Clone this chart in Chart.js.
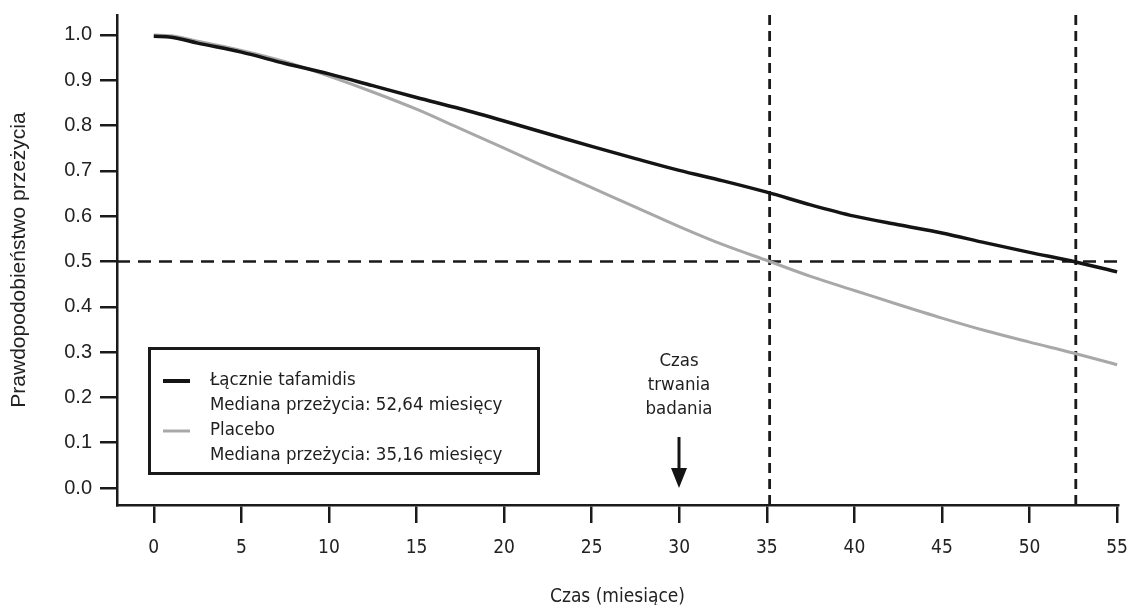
<!DOCTYPE html>
<html lang="pl">
<head>
<meta charset="utf-8">
<title>Krzywe przeżycia – tafamidis vs placebo</title>
<script src="https://cdn.jsdelivr.net/npm/chart.js@4/dist/chart.umd.min.js"></script>
<style>
  html, body { margin: 0; padding: 0; background: #fff; }
  #wrap { width: 1130px; height: 605px; }
</style>
</head>
<body>
<div id="wrap"><canvas id="km" width="1130" height="605"></canvas></div>
<script>
// ---- data ----
const xTicks = [0, 5, 10, 15, 20, 25, 30, 35, 40, 45, 50, 55];
const yTicks = [0, 0.1, 0.2, 0.3, 0.4, 0.5, 0.6, 0.7, 0.8, 0.9, 1.0];

const tafMonths   = [0, 1, 2.5, 5, 7.5, 10, 12.5, 15, 17.5, 20, 22.5, 25, 27.5, 30, 32.5, 35, 37.5, 40, 42.5, 45, 47.5, 50, 52.64, 55];
const tafSurvival = [0.997, 0.995, 0.982, 0.962, 0.937, 0.914, 0.888, 0.862, 0.837, 0.810, 0.782, 0.754, 0.727, 0.701, 0.678, 0.653, 0.625, 0.600, 0.581, 0.563, 0.541, 0.520, 0.499, 0.477];

const plcMonths   = [0, 1, 2.5, 5, 7.5, 10, 12.5, 15, 17.5, 20, 22.5, 25, 27.5, 30, 32.5, 35.16, 37.5, 40, 42.5, 45, 47.5, 50, 52.5, 55];
const plcSurvival = [1.0, 0.998, 0.986, 0.966, 0.941, 0.909, 0.874, 0.836, 0.793, 0.750, 0.706, 0.663, 0.620, 0.577, 0.537, 0.500, 0.467, 0.436, 0.405, 0.375, 0.347, 0.322, 0.298, 0.272];

const tafMedian = 52.64;
const plcMedian = 35.16;
const halfSurvival = 0.5;
const studyEnd = 30;

const seriesNames = ['Łącznie tafamidis', 'Placebo'];
const medianNotes = ['Mediana przeżycia: 52,64 miesięcy', 'Mediana przeżycia: 35,16 miesięcy'];
const studyNote = ['Czas', 'trwania', 'badania'];

const xTitle = 'Czas (miesiące)';
const yTitle = 'Prawdopodobieństwo przeżycia';

// ---- scale extents ----
const X_MIN = -2.1, X_MAX = 55.05;
const Y_MIN = -0.0375, Y_MAX = 1.044;

const toPoints = (xs, ys) => xs.map((x, i) => ({ x, y: ys[i] }));

const BLACK = '#141414';
const GREY = '#a8a8a8';
const CONDENSED = "'DejaVu Sans Condensed', 'Roboto', sans-serif";
const SANS = "'Liberation Sans', Arial, sans-serif";

// legend box + study-duration note with arrow
const overlay = {
  id: 'overlay',
  afterDraw(chart) {
    const ctx = chart.ctx;
    const xs = chart.scales.x, ys = chart.scales.y;
    ctx.save();

    // legend box
    ctx.lineWidth = 3;
    ctx.strokeStyle = '#1a1a1a';
    ctx.strokeRect(149.5, 348.5, 389, 125);

    ctx.lineCap = 'butt';
    ctx.strokeStyle = BLACK;
    ctx.lineWidth = 4;
    ctx.beginPath(); ctx.moveTo(163, 381); ctx.lineTo(190, 381); ctx.stroke();
    ctx.strokeStyle = GREY;
    ctx.lineWidth = 3;
    ctx.beginPath(); ctx.moveTo(163, 431); ctx.lineTo(190, 431); ctx.stroke();

    ctx.fillStyle = '#1e1e1e';
    ctx.font = '18.5px ' + CONDENSED;
    ctx.textAlign = 'left';
    ctx.textBaseline = 'middle';
    ctx.fillText(seriesNames[0], 210, 380);
    ctx.fillText(medianNotes[0], 210, 405);
    ctx.fillText(seriesNames[1], 210, 430);
    ctx.fillText(medianNotes[1], 210, 455);

    // study duration note
    const cx = Math.round(xs.getPixelForValue(studyEnd));
    ctx.textAlign = 'center';
    ctx.fillText(studyNote[0], cx, 361);
    ctx.fillText(studyNote[1], cx, 385);
    ctx.fillText(studyNote[2], cx, 409);

    const tipY = ys.getPixelForValue(0);
    ctx.strokeStyle = BLACK;
    ctx.lineWidth = 3;
    ctx.beginPath(); ctx.moveTo(cx, tipY - 51); ctx.lineTo(cx, tipY - 16); ctx.stroke();
    ctx.fillStyle = BLACK;
    ctx.beginPath();
    ctx.moveTo(cx - 8, tipY - 20);
    ctx.lineTo(cx + 8, tipY - 20);
    ctx.lineTo(cx, tipY);
    ctx.closePath();
    ctx.fill();

    ctx.restore();
  }
};

new Chart(document.getElementById('km'), {
  type: 'line',
  data: {
    datasets: [
      {
        label: seriesNames[0],
        data: toPoints(tafMonths, tafSurvival),
        borderColor: BLACK,
        borderWidth: 3.5,
        pointRadius: 0,
        cubicInterpolationMode: 'monotone'
      },
      {
        label: seriesNames[1],
        data: toPoints(plcMonths, plcSurvival),
        borderColor: GREY,
        borderWidth: 3,
        pointRadius: 0,
        cubicInterpolationMode: 'monotone'
      },
      {
        label: 'median line',
        data: [{ x: X_MIN, y: halfSurvival }, { x: X_MAX, y: halfSurvival }],
        borderColor: '#1a1a1a',
        borderWidth: 2.5,
        borderDash: [13, 8],
        pointRadius: 0
      },
      {
        label: 'median tafamidis',
        data: [{ x: tafMedian, y: Y_MIN }, { x: tafMedian, y: Y_MAX }],
        borderColor: '#1a1a1a',
        borderWidth: 2.8,
        borderDash: [10, 6],
        pointRadius: 0
      },
      {
        label: 'median placebo',
        data: [{ x: plcMedian, y: Y_MIN }, { x: plcMedian, y: Y_MAX }],
        borderColor: '#1a1a1a',
        borderWidth: 2.8,
        borderDash: [10, 6],
        pointRadius: 0
      }
    ]
  },
  options: {
    responsive: false,
    devicePixelRatio: 1,
    animation: false,
    layout: { padding: { top: 15, right: 12, left: 0, bottom: 0 } },
    plugins: {
      legend: { display: false },
      tooltip: { enabled: false }
    },
    scales: {
      x: {
        type: 'linear',
        min: X_MIN,
        max: X_MAX,
        afterBuildTicks: s => { s.ticks = xTicks.map(v => ({ value: v })); },
        afterFit: s => { s.height = 100; s.paddingLeft = 0; s.paddingRight = 0; },
        grid: { drawOnChartArea: false, drawTicks: true, tickLength: 18, color: '#1a1a1a', lineWidth: 2.5 },
        border: { display: true, color: '#1a1a1a', width: 2.5 },
        ticks: {
          padding: 14,
          color: '#222',
          font: { family: CONDENSED, size: 19 },
          maxRotation: 0,
          callback: v => String(v)
        },
        title: {
          display: true,
          text: xTitle,
          color: '#222',
          font: { family: CONDENSED, size: 19 },
          padding: { top: 0, bottom: -3 }
        }
      },
      y: {
        type: 'linear',
        min: Y_MIN,
        max: Y_MAX,
        afterBuildTicks: s => { s.ticks = yTicks.map(v => ({ value: v })); },
        afterFit: s => { s.width = 117; s.paddingTop = 0; s.paddingBottom = 0; },
        grid: { drawOnChartArea: false, drawTicks: true, tickLength: 17, color: '#1a1a1a', lineWidth: 2.5 },
        border: { display: true, color: '#1a1a1a', width: 2.5 },
        ticks: {
          padding: 8,
          color: '#222',
          font: { family: SANS, size: 20 },
          callback: v => v.toFixed(1)
        },
        title: {
          display: true,
          text: yTitle,
          color: '#222',
          font: { family: SANS, size: 21 },
          padding: { top: 7, bottom: 0 }
        }
      }
    }
  },
  plugins: [overlay]
});
</script>
</body>
</html>
